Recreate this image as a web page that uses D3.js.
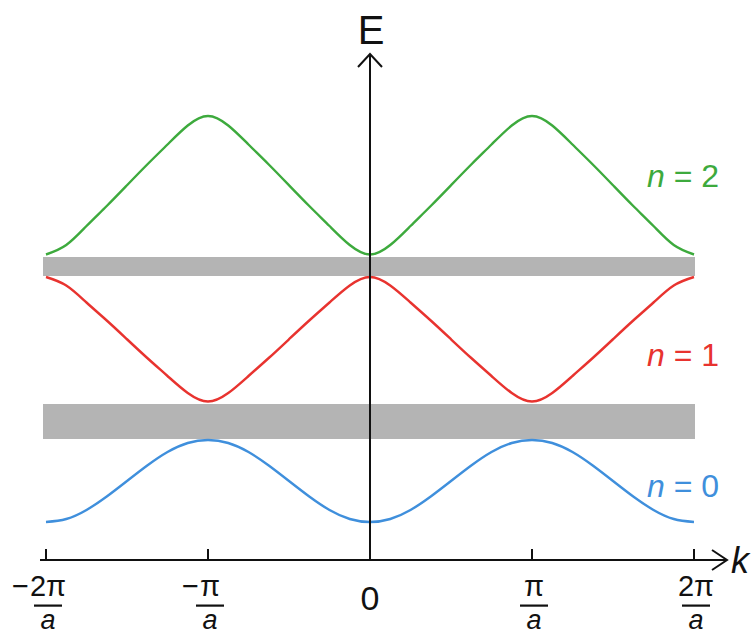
<!DOCTYPE html>
<html><head><meta charset="utf-8">
<script src="https://cdn.jsdelivr.net/npm/d3@7"></script>
<style>body{margin:0;background:#fff} svg{display:block}</style>
</head><body>
<svg id="c" width="753" height="635"></svg>
<script>
// k in units of pi/a
const kValues = [-2,-1.875,-1.75,-1.625,-1.5,-1.375,-1.25,-1.125,-1,-0.875,-0.75,-0.625,-0.5,-0.375,-0.25,-0.125,0,
  0.125,0.25,0.375,0.5,0.625,0.75,0.875,1,1.125,1.25,1.375,1.5,1.625,1.75,1.875,2];
const band0 = [0.76,0.82,1.00,1.27,1.58,1.89,2.16,2.34,2.40, 2.34,2.16,1.89,1.58,1.27,1.00,0.82,0.76,
  0.82,1.00,1.27,1.58,1.89,2.16,2.34,2.40, 2.34,2.16,1.89,1.58,1.27,1.00,0.82,0.76];
const band1 = [5.66,5.49,5.15,4.79,4.415,4.04,3.68,3.34,3.17, 3.34,3.68,4.04,4.415,4.79,5.15,5.49,5.66,
  5.49,5.15,4.79,4.415,4.04,3.68,3.34,3.17, 3.34,3.68,4.04,4.415,4.79,5.15,5.49,5.66];
const band2 = [6.11,6.30,6.68,7.08,7.495,7.91,8.31,8.69,8.88, 8.69,8.31,7.91,7.495,7.08,6.68,6.30,6.11,
  6.30,6.68,7.08,7.495,7.91,8.31,8.69,8.88, 8.69,8.31,7.91,7.495,7.08,6.68,6.30,6.11];
const gapLow = [2.42, 5.68];
const gapHigh = [3.12, 6.06];
const bandNames = ["n = 0", "n = 1", "n = 2"];
const bandLabelE = [1.26, 3.88, 7.46];
const tickValues = [-2, -1, 0, 1, 2];
const tickSigns = ["−", "−", "", "", ""];
const tickNumerators = ["2π", "π", "0", "π", "2π"];
const tickDenominators = ["a", "a", "", "a", "a"];

const colors = ["#3f8fdc", "#e8332f", "#3daa3d"];
const FONT = "'Liberation Sans', Arial, sans-serif";

const svg = d3.select("#c");
const x = d3.scaleLinear().domain([-2, 2]).range([46, 694]);
const y = d3.scaleLinear().domain([0, 10]).range([560, 60]);

// gaps
svg.append("g").selectAll("rect").data(gapLow).join("rect")
  .attr("x", x(-2) - 3).attr("width", x(2) - x(-2) + 4)
  .attr("y", (d, i) => y(gapHigh[i]))
  .attr("height", (d, i) => y(d) - y(gapHigh[i]))
  .attr("fill", "#b4b4b4");

// bands
const line = d3.line().x((d, i) => x(kValues[i])).y(d => y(d)).curve(d3.curveNatural);
svg.append("g").selectAll("path").data([band0, band1, band2]).join("path")
  .attr("d", line).attr("fill", "none")
  .attr("stroke", (d, i) => colors[i]).attr("stroke-width", 2.4);

// axes
const ax = svg.append("g").attr("stroke", "#111").attr("stroke-width", 2).attr("fill", "none");
ax.append("line").attr("x1", x(-2) - 6).attr("x2", 726).attr("y1", y(0)).attr("y2", y(0));
ax.append("path").attr("d", `M${712},${y(0) - 10}L${727},${y(0)}L${712},${y(0) + 10}`);
ax.append("line").attr("x1", x(0)).attr("x2", x(0)).attr("y1", y(0)).attr("y2", 54);
ax.append("path").attr("d", `M${x(0) - 12},${67}L${x(0)},${54}L${x(0) + 12},${67}`);
ax.selectAll("line.tick").data(tickValues.filter(d => d !== 0)).join("line").attr("class", "tick")
  .attr("x1", d => x(d)).attr("x2", d => x(d)).attr("y1", y(0)).attr("y2", y(0) - 11);

// axis titles
svg.append("text").attr("x", x(0) + 1).attr("y", 44).attr("text-anchor", "middle")
  .attr("font-family", FONT).attr("font-size", 40).attr("fill", "#111").text("E");
svg.append("text").attr("x", 731).attr("y", 573)
  .attr("font-family", FONT).attr("font-size", 36).attr("font-style", "italic").attr("fill", "#111").text("k");

// tick labels
const tl = svg.append("g").attr("font-family", FONT).attr("fill", "#111");
tickValues.forEach((v, i) => {
  const cx = x(v) + 2;
  if (tickDenominators[i] === "") {
    tl.append("text").attr("x", x(v)).attr("y", 610).attr("text-anchor", "middle")
      .attr("font-size", 34).text(tickNumerators[i]);
    return;
  }
  const num = tl.append("text").attr("x", cx).attr("y", 596).attr("text-anchor", "middle")
    .attr("font-size", 29).text(tickNumerators[i]);
  const w = num.node().getComputedTextLength();
  if (tickSigns[i]) {
    tl.append("text").attr("x", cx - w / 2 - 1).attr("y", 596).attr("text-anchor", "end")
      .attr("font-size", 29).text(tickSigns[i]);
  }
  tl.append("rect").attr("x", cx - 14).attr("width", 28).attr("y", 604.5).attr("height", 2.2);
  tl.append("text").attr("x", cx).attr("y", 629).attr("text-anchor", "middle")
    .attr("font-size", 27).attr("font-style", "italic").text(tickDenominators[i]);
});

// band labels
bandNames.forEach((nm, i) => {
  const t = svg.append("text").attr("x", 647).attr("y", y(bandLabelE[i]))
    .attr("font-family", FONT).attr("font-size", 32).attr("fill", colors[i]);
  t.append("tspan").attr("font-style", "italic").text(nm.slice(0, 1));
  t.append("tspan").text(nm.slice(1));
});
</script>
</body></html>
